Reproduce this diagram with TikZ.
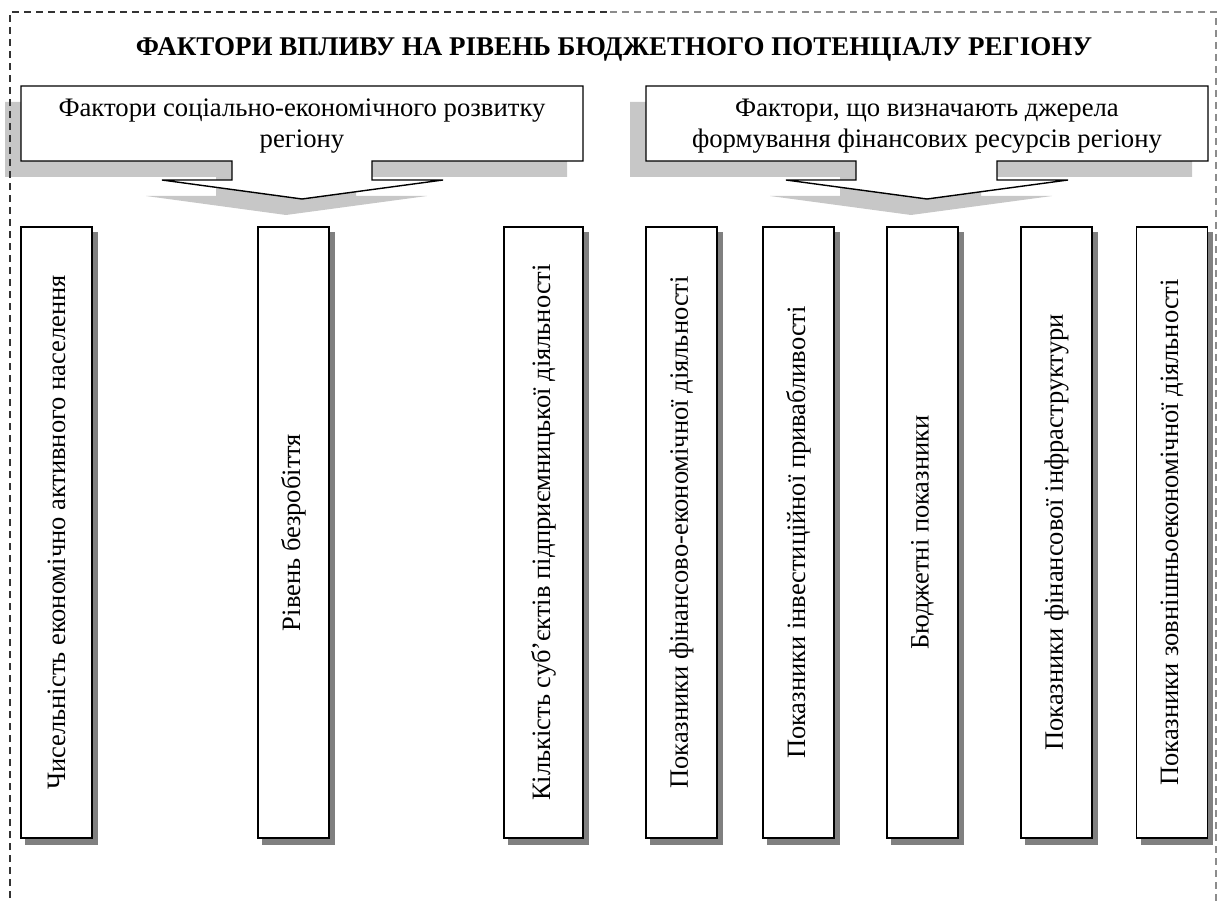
\documentclass[tikz,border=0pt]{standalone}
\usepackage{fontspec}
\setmainfont{Liberation Serif}
\usetikzlibrary{backgrounds}

\begin{document}
\begin{tikzpicture}[
        x=1pt, y=-1pt,
        % Define styles
        frame/.style={dash pattern=on 7pt off 5pt, line width=1.2pt},
        heading/.style={font=\fontsize{27}{32}\selectfont\bfseries},
        callout/.style={draw, line width=1.4pt, fill=white, line join=miter},
        callshadow/.style={fill=black!22, shift={(-16,16)}},
        calltext/.style={align=center, inner sep=0pt, font=\fontsize{26.7}{31}\selectfont},
        factor/.style={draw, line width=1.4pt, fill=white, rotate=90, minimum width=611pt, minimum height=71pt, inner sep=0pt, font=\fontsize{26.5}{30}\selectfont},
        boxshadow/.style={fill=black!50}
    ]

    \useasboundingbox (0,0) rectangle (1219,901);

    % 1. Title
    \node[heading] (title) at (614,49) {ФАКТОРИ ВПЛИВУ НА РІВЕНЬ БЮДЖЕТНОГО ПОТЕНЦІАЛУ РЕГІОНУ};

    % 2. Callout groups
    \draw[callout] (21,86) -- (583,86) -- (583,161) -- (372,161) -- (372,180) -- (443,180) -- (302,199) -- (162,180) -- (232,180) -- (232,161) -- (21,161) -- cycle;
    \node[calltext] (socio) at (302,126) {Фактори соціально-економічного розвитку\\регіону};

    \draw[callout] (646,86) -- (1208,86) -- (1208,161) -- (997,161) -- (997,180) -- (1068,180) -- (927,199) -- (786,180) -- (856,180) -- (856,161) -- (646,161) -- cycle;
    \node[calltext] (fin) at (927,126) {Фактори, що визначають джерела\\формування фінансових ресурсів регіону};

    % 3. Factor boxes (text bottom to top)
    \node[factor] (f1) at (56.5,532.5) {Чисельність економічно активного населення};
    \node[factor] (f2) at (293.5,532.5) {Рівень безробіття};
    \node[factor, minimum height=79pt] (f3) at (543.5,532.5) {Кількість суб’єктів підприємницької діяльності};
    \node[factor] (f4) at (681.5,532.5) {Показники фінансово-економічної діяльності};
    \node[factor] (f5) at (798.5,532.5) {Показники інвестиційної привабливості};
    \node[factor] (f6) at (922.5,532.5) {Бюджетні показники};
    \node[factor] (f7) at (1056.5,532.5) {Показники фінансової інфраструктури};
    \node[factor] (f8) at (1172,532.5) {Показники зовнішньоекономічної діяльності};

    % 4. Shadows and dashed frame behind everything
    \begin{scope}[on background layer]
        \fill[callshadow] (21,86) -- (583,86) -- (583,161) -- (372,161) -- (372,180) -- (443,180) -- (302,199) -- (162,180) -- (232,180) -- (232,161) -- (21,161) -- cycle;
        \fill[callshadow] (646,86) -- (1208,86) -- (1208,161) -- (997,161) -- (997,180) -- (1068,180) -- (927,199) -- (786,180) -- (856,180) -- (856,161) -- (646,161) -- cycle;

        \fill[boxshadow] ([shift={(5,6)}]f1.south west) rectangle ([shift={(5,6)}]f1.north east);
        \fill[boxshadow] ([shift={(5,6)}]f2.south west) rectangle ([shift={(5,6)}]f2.north east);
        \fill[boxshadow] ([shift={(5,6)}]f3.south west) rectangle ([shift={(5,6)}]f3.north east);
        \fill[boxshadow] ([shift={(5,6)}]f4.south west) rectangle ([shift={(5,6)}]f4.north east);
        \fill[boxshadow] ([shift={(5,6)}]f5.south west) rectangle ([shift={(5,6)}]f5.north east);
        \fill[boxshadow] ([shift={(5,6)}]f6.south west) rectangle ([shift={(5,6)}]f6.north east);
        \fill[boxshadow] ([shift={(5,6)}]f7.south west) rectangle ([shift={(5,6)}]f7.north east);
        \fill[boxshadow] ([shift={(5,6)}]f8.south west) rectangle ([shift={(5,6)}]f8.north east);

        % frame fades to grey on the right
        \draw[frame, black!80] (10,910) -- (10,12) -- (610,12);
        \draw[frame, black!45] (610,12) -- (1216,12) -- (1216,910);
    \end{scope}

\end{tikzpicture}
\end{document}
